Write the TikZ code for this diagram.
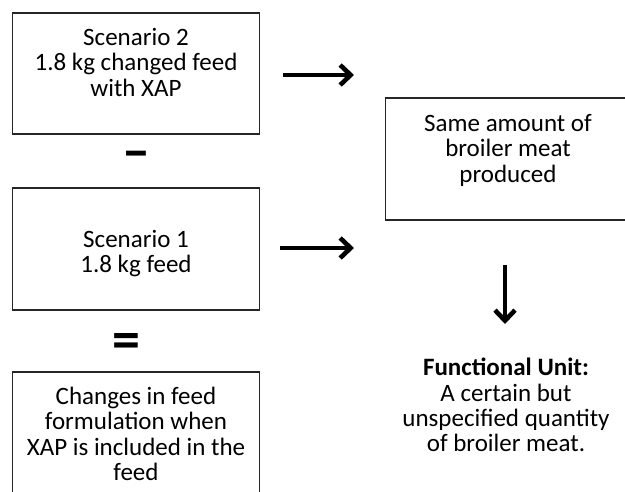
\documentclass[tikz,border=0pt]{standalone}
\usepackage{fontspec}
\setmainfont{Carlito}
\usetikzlibrary{arrows.meta}
\begin{document}
\begin{tikzpicture}[x=1pt,y=-1pt,
  box/.style={draw=black!85, line width=1.3pt, minimum width=247pt, inner sep=0pt},
  txt/.style={align=center, font=\fontsize{25}{25.4}\selectfont, inner sep=0pt, anchor=north},
  flow/.style={draw=black, line width=4.6pt,
    -{Straight Barb[length=10.5pt,width=20pt,line width=4.6pt]}},
  sym/.style={font=\fontsize{56}{56}\bfseries\selectfont, inner sep=0pt}]
\useasboundingbox (0,0) rectangle (625,491);
\clip (0,0) rectangle (625,491);

% scenario boxes on the left
\node[box, minimum height=121pt] (s2) at (136,73.5) {};
\node[txt] (s2t) at (136,28) {Scenario 2\\1.8 kg changed feed\\with XAP};

\node[box, minimum height=122pt] (s1) at (136,249) {};
\node[txt] (s1t) at (136,230) {Scenario 1\\1.8 kg feed};

\node[box, minimum height=130pt] (ch) at (136,437) {};
\node[txt] (cht) at (136,387) {Changes in feed\\formulation when\\XAP is included in the\\feed};

% operators between the scenarios
\node[sym] (minus) at (136,160) {–};
\node[sym] (eq) at (126,346) {=};

% outcome box and functional unit
\node[box, minimum height=122pt] (meat) at (509,159) {};
\node[txt] (meatt) at (508,114) {Same amount of\\broiler meat\\produced};

\node[txt] (fu) at (506,358) {\textbf{Functional Unit:}\\A certain but\\unspecified quantity\\of broiler meat.};

% connectors
\coordinate (a1s) at (283,75);  \coordinate (a1e) at (354,75);
\coordinate (a2s) at (280,248); \coordinate (a2e) at (354,248);
\coordinate (a3s) at (505,265); \coordinate (a3e) at (505,324);
\draw[flow] (a1s) -- (a1e);
\draw[flow] (a2s) -- (a2e);
\draw[flow] (a3s) -- (a3e);
\end{tikzpicture}
\end{document}
